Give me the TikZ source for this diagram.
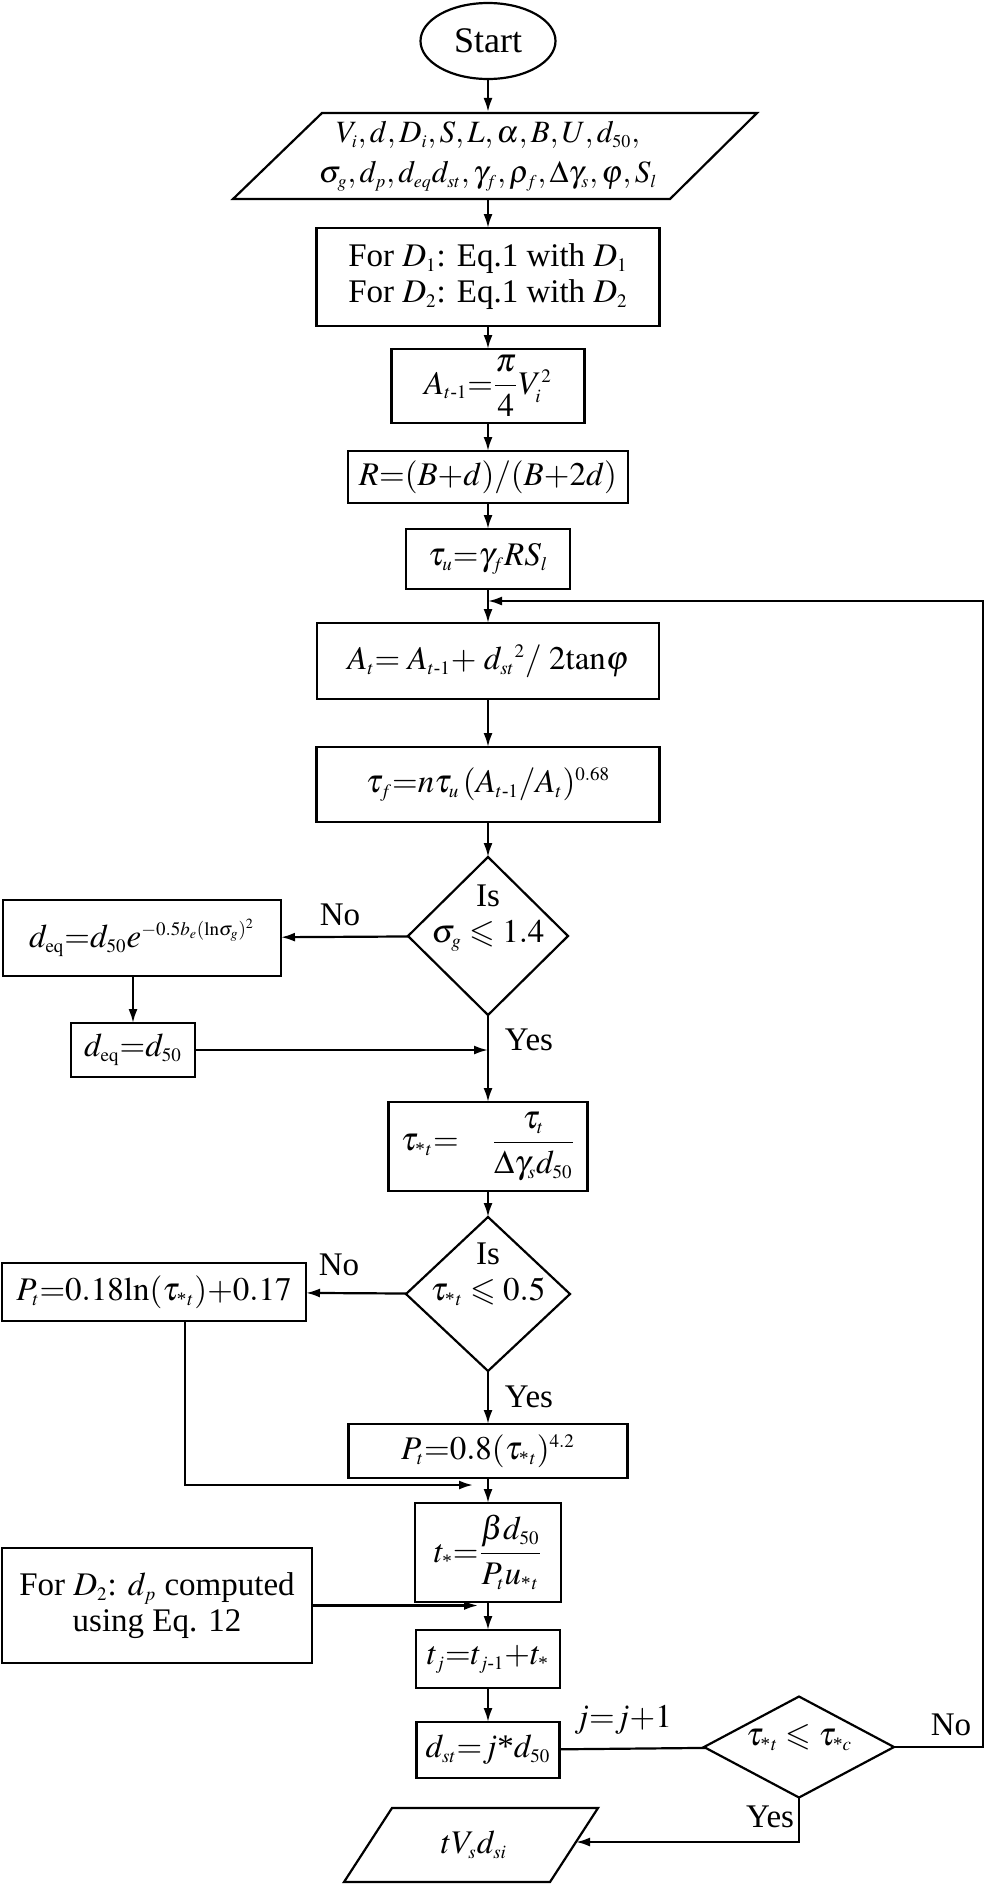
\documentclass[tikz,border=0pt]{standalone}
\usepackage{amsmath,amssymb}
\usepackage{mathptmx}
\usepackage{fontspec}
\setmainfont{Liberation Serif}
\usetikzlibrary{shapes.geometric, arrows.meta}
\DeclareMathSizes{16.5}{16.5}{9.5}{7}
\DeclareMathSizes{15.5}{15.5}{9}{6.5}

% text of a decision box, kept out of the diamond's size
\newcommand{\dtext}[2][5pt]{\makebox[0pt]{\smash{\raisebox{#1}{\begin{tabular}{@{}c@{}}#2\end{tabular}}}}}
% star and star-t subscripts
\newcommand{\astr}{\text{*}}
\newcommand{\astt}{\text{*}\mkern1mu t}

\begin{document}
\begin{tikzpicture}[x=0.5pt, y=-0.5pt, line width=1.1pt,
    font=\fontsize{16.5}{18}\selectfont,
    box/.style={draw, rectangle, inner sep=0pt, outer sep=0pt, align=center},
    decision/.style={draw, diamond, inner sep=0pt, outer sep=0pt},
    arr/.style={-{Latex[length=7pt, width=4.5pt]}}]
            \useasboundingbox (0,0) rectangle (987,1885);

            %nodes
            \node[draw, ellipse, inner sep=0pt, minimum width=67.5pt, minimum height=38pt, font=\fontsize{18}{20}\selectfont] (start) at (488,41) {Start};
            \node[inner sep=0pt, minimum height=43pt, align=center, font=\fontsize{15.5}{20}\selectfont] (in) at (488,156) {$V_i, d, D_i, S, L, \alpha, B, U, d_{50},$\\ $\sigma_g, d_p, d_{eq} d_{st}, \gamma_f, \rho_f, \Delta\gamma_s, \varphi, S_l$};
            \draw (322,113) -- (757,113) -- (670,199) -- (233,199) -- cycle;
            \node[box, minimum width=171.5pt, minimum height=49pt] (eq1) at (488,277) {For $D_1$: Eq.1 with $D_1$\\ For $D_2$: Eq.1 with $D_2$};
            \node[box, minimum width=96.5pt, minimum height=37pt] (a0) at (488,386) {$A_{t\text{-}1}{=}\dfrac{\pi}{4}V_i^2$};
            \node[box, minimum width=140pt, minimum height=26pt] (rr) at (488,477) {$R{=}(B{+}d)/(B{+}2d)$};
            \node[box, minimum width=82pt, minimum height=30pt] (tu) at (488,559) {$\tau_u{=}\gamma_f RS_l$};
            \node[box, minimum width=171pt, minimum height=38pt] (at) at (488,661) {$A_t{=}\;A_{t\text{-}1}{+}\;d_{st}{}^2/\;2\mathrm{tan}\varphi$};
            \node[box, minimum width=171.5pt, minimum height=37.5pt] (tf) at (488,784.5) {$\tau_f{=}n\tau_u\,(A_{t\text{-}1}/A_t)^{0.68}$};
            \node[decision, minimum width=80pt, minimum height=79pt] (d1) at (488,936) {\dtext{Is\\ $\sigma_g\leqslant1.4$}};
            \node[box, minimum width=139pt, minimum height=38pt] (deq) at (142,938) {$d_{\mathrm{eq}}{=}d_{50}e^{-0.5b_e(\mathrm{ln}\sigma_g)^2}$};
            \node[box, minimum width=62pt, minimum height=27pt] (deq50) at (133,1050) {$d_{\mathrm{eq}}{=}d_{50}$};
            \node[box, minimum width=99.5pt, minimum height=44.5pt] (ts) at (488,1146.5) {$\tau_{\astt}{=}\quad\dfrac{\tau_t}{\Delta\gamma_s d_{50}}$};
            \node[decision, minimum width=82pt, minimum height=77pt] (d2) at (488,1294) {\dtext{Is\\ $\tau_{\astt}\leqslant0.5$}};
            \node[box, minimum width=152pt, minimum height=29pt] (pl) at (154,1292) {$P_t{=}0.18\mathrm{ln}(\tau_{\astt}){+}0.17$};
            \node[box, minimum width=139.5pt, minimum height=27pt] (ph) at (488,1451) {$P_t{=}0.8(\tau_{\astt})^{4.2}$};
            \node[box, minimum width=73pt, minimum height=49.5pt] (tst) at (488,1552.5) {$t_{\astr}{=}\dfrac{\beta d_{50}}{P_t u_{\astt}}$};
            \node[box, minimum width=155pt, minimum height=57.5pt] (dp) at (157,1605.5) {For $D_2$: $d_p$ computed\\ using Eq. 12};
            \node[box, minimum width=72pt, minimum height=29pt] (tj) at (488,1659) {$t_j{=}t_{j\text{-}1}{+}t_{\astr}$};
            \node[box, minimum width=71.5pt, minimum height=28pt] (dst) at (488,1750) {$d_{st}{=}j\text{*}d_{50}$};
            \node[decision, minimum width=95pt, minimum height=50.5pt] (d3) at (799,1747) {\dtext[0pt]{$\tau_{\astt}\leqslant\tau_{\text{*}c}$}};
            \node (out) at (474,1845) {$tV_sd_{si}$};
            \draw (392,1808) -- (598,1808) -- (550,1882) -- (344,1882) -- cycle;

            %labels
            \node (no1) at (340,915) {No};
            \node (yes1) at (529,1040) {Yes};
            \node (no2) at (339,1265) {No};
            \node (yes2) at (529,1397) {Yes};
            \node (inc) at (623,1720) {$j{=}j{+}1$};
            \node (no3) at (951,1725) {No};
            \node (yes3) at (770,1817) {Yes};

            %joins
            \coordinate (loopin) at (488,601);
            \coordinate (j1) at (488,1050);
            \coordinate (j2) at (473,1485);
            \coordinate (j3) at (478,1605.5);
            \coordinate (outin) at (576,1842);

            %edges
            \draw[arr] (start) -- (in);
            \draw[arr] (in) -- (eq1);
            \draw[arr] (eq1) -- (a0);
            \draw[arr] (a0) -- (rr);
            \draw[arr] (rr) -- (tu);
            \draw[arr] (tu) -- (at);
            \draw[arr] (at) -- (tf);
            \draw[arr] (tf) -- (d1);
            \draw[arr] (d1) -- (deq);
            \draw[arr] (deq50.north |- deq.south) -- (deq50);
            \draw[arr] (deq50) -- (j1);
            \draw[arr] (d1) -- (ts);
            \draw[arr] (ts) -- (d2);
            \draw[arr] (d2) -- (pl);
            \draw[arr] ([xshift=15.5pt]pl.south) |- (j2);
            \draw[arr] (d2) -- (ph);
            \draw[arr] (ph) -- (tst);
            \draw[arr] (dp) -- (j3);
            \draw[arr] (tst) -- (tj);
            \draw[arr] (tj) -- (dst);
            \draw (dst) -- (d3);
            \draw[arr] (d3.east) -- ++(89,0) |- (loopin);
            \draw[arr] (d3.south) |- (outin);
        \end{tikzpicture}
\end{document}
